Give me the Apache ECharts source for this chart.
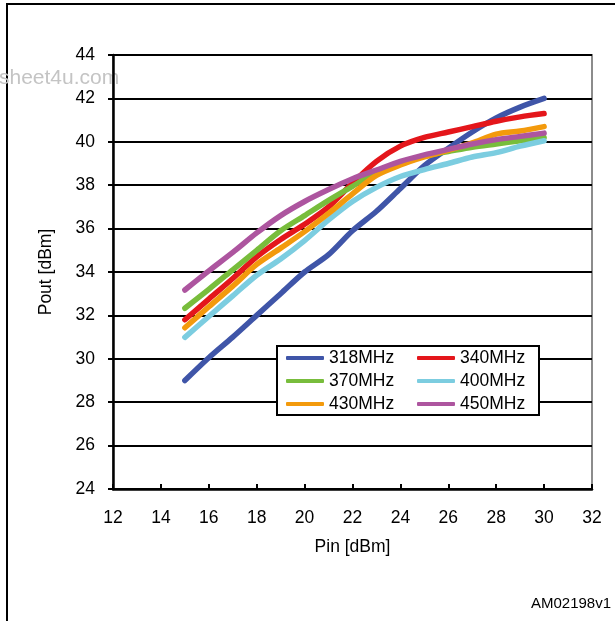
<!DOCTYPE html>
<html>
<head>
<meta charset="utf-8">
<script src="https://cdn.jsdelivr.net/npm/echarts@6/dist/echarts.min.js"></script>
<style>
  html, body { margin: 0; padding: 0; background: #fff; }
  #chart { width: 615px; height: 621px; }
</style>
</head>
<body>
<div id="chart"></div>
<script>
// Pin [dBm] sample points
const pinValues = [15, 16, 17, 18, 19, 20, 21, 22, 23, 24, 25, 26, 27, 28, 29, 30]

// Pout [dBm] per frequency
const pout318 = [29.0, 30.05, 31.0, 32.0, 33.0, 34.0, 34.8, 35.9, 36.8, 37.85, 38.9, 39.7, 40.45, 41.1, 41.6, 42.0]
const pout340 = [31.8, 32.75, 33.7, 34.7, 35.5, 36.2, 37.0, 38.1, 39.1, 39.8, 40.2, 40.45, 40.7, 40.95, 41.15, 41.3]
const pout370 = [32.33, 33.2, 34.1, 35.0, 35.9, 36.6, 37.3, 37.95, 38.6, 39.0, 39.35, 39.55, 39.75, 39.9, 40.05, 40.2]
const pout400 = [30.99, 31.95, 32.9, 33.85, 34.6, 35.45, 36.4, 37.25, 37.9, 38.4, 38.72, 39.0, 39.3, 39.5, 39.8, 40.05]
const pout430 = [31.43, 32.4, 33.35, 34.35, 35.1, 35.86, 36.7, 37.6, 38.45, 38.93, 39.3, 39.6, 39.95, 40.35, 40.5, 40.7]
const pout450 = [33.17, 34.05, 34.9, 35.8, 36.6, 37.25, 37.8, 38.3, 38.7, 39.1, 39.4, 39.65, 39.9, 40.1, 40.25, 40.4]

const seriesNames = ['318MHz', '340MHz', '370MHz', '400MHz', '430MHz', '450MHz']
const seriesColors = ['#3f55a8', '#e4161b', '#78bd3c', '#7ccde0', '#f39a0c', '#ad559f']
const seriesValues = [pout318, pout340, pout370, pout400, pout430, pout450]

const xTicks = { min: 12, max: 32, step: 2 }
const yTicks = { min: 24, max: 44, step: 2 }

const font = 'Liberation Sans, Arial, Helvetica, sans-serif'

let myChart = echarts.init(document.getElementById('chart'))

let series = seriesNames.map(function(name, i) {
  return {
    name: name,
    type: 'line',
    smooth: 0.3,
    symbol: 'none',
    lineStyle: {
      color: seriesColors[i],
      width: 5.5,
      cap: 'round',
      join: 'round'
    },
    itemStyle: {
      color: seriesColors[i]
    },
    data: pinValues.map(function(p, k) {
      return [p, seriesValues[i][k]]
    })
  }
})

let legendBase = {
  orient: 'vertical',
  icon: 'roundRect',
  padding: 0,
  itemWidth: 38,
  itemHeight: 4,
  itemGap: 5,
  textStyle: {
    color: '#000',
    fontSize: 17.5,
    fontFamily: font,
    lineHeight: 18,
    padding: [0, 0, 0, 0]
  }
}

let option = {
  backgroundColor: '#fff',
  animation: false,
  grid: {
    left: 113,
    right: 23,
    top: 55,
    bottom: 132,
    show: true,
    borderColor: '#8c8c8c',
    borderWidth: 2
  },
  xAxis: {
    type: 'value',
    min: xTicks.min,
    max: xTicks.max,
    interval: xTicks.step,
    name: 'Pin [dBm]',
    nameLocation: 'middle',
    nameGap: 49,
    nameTextStyle: { color: '#000', fontSize: 17.5, fontFamily: font },
    axisLine: { lineStyle: { color: '#000', width: 2.5 } },
    axisTick: { inside: true, length: 5, lineStyle: { color: '#000', width: 2 } },
    axisLabel: { color: '#000', fontSize: 17.5, fontFamily: font, margin: 20 },
    splitLine: { show: false }
  },
  yAxis: {
    type: 'value',
    min: yTicks.min,
    max: yTicks.max,
    interval: yTicks.step,
    name: 'Pout [dBm]',
    nameLocation: 'middle',
    nameGap: 58,
    nameTextStyle: { color: '#000', fontSize: 17.5, fontFamily: font },
    axisLine: { lineStyle: { color: '#000', width: 2.5 } },
    axisTick: { inside: false, length: 5, lineStyle: { color: '#000', width: 2 } },
    axisLabel: { color: '#000', fontSize: 17.5, fontFamily: font, margin: 18 },
    splitLine: { lineStyle: { color: '#000', width: 2 } }
  },
  legend: [
    Object.assign({}, legendBase, {
      left: 286,
      top: 349,
      data: ['318MHz', '370MHz', '430MHz']
    }),
    Object.assign({}, legendBase, {
      left: 417,
      top: 349,
      data: ['340MHz', '400MHz', '450MHz']
    })
  ],
  graphic: [
    {
      // outer frame
      type: 'rect',
      shape: { x: 7, y: 4, width: 700, height: 700 },
      style: { fill: 'none', stroke: '#000', lineWidth: 2 },
      silent: true
    },
    {
      // legend box
      type: 'rect',
      z: 3,
      shape: { x: 277, y: 346, width: 262, height: 69 },
      style: { fill: '#fff', stroke: '#000', lineWidth: 2 },
      silent: true
    },
    {
      type: 'text',
      left: -1,
      top: 68,
      style: { text: 'sheet4u.com', fill: '#c4c4c4', font: '21px ' + font }
    },
    {
      type: 'text',
      left: 531,
      top: 596,
      style: { text: 'AM02198v1', fill: '#000', font: '15px ' + font }
    }
  ],
  series: series
}

myChart.setOption(option)
</script>
</body>
</html>
